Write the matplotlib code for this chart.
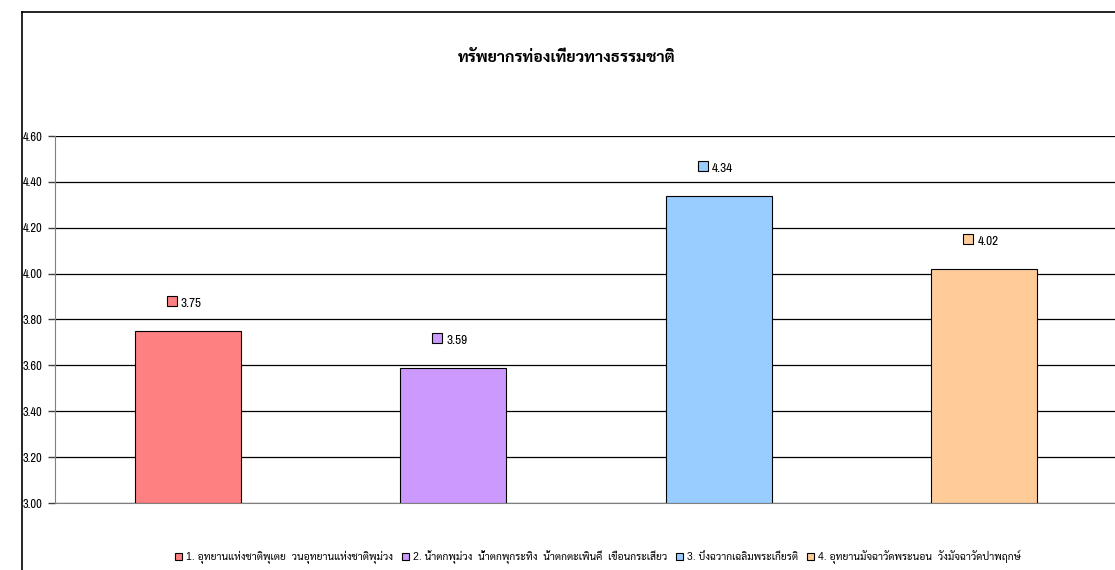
import matplotlib
matplotlib.use("Agg")
import matplotlib.pyplot as plt
import matplotlib.transforms as mtransforms
from matplotlib import font_manager as fm
from matplotlib.patches import Rectangle

categories = [
    "1. อุทยานแห่งชาติพุเตย  วนอุทยานแห่งชาติพุม่วง",
    "2. น้ำตกพุม่วง  น้ำตกพุกระทิง  น้ำตกตะเพินคี่  เขื่อนกระเสียว",
    "3. บึงฉวากเฉลิมพระเกียรติ",
    "4. อุทยานมัจฉาวัดพระนอน  วังมัจฉาวัดป่าพฤกษ์",
]
values = [3.75, 3.59, 4.34, 4.02]
colors = ["#FF8080", "#CC99FF", "#99CCFF", "#FFCC99"]
title = "ทรัพยากรท่องเที่ยวทางธรรมชาติ"
yticks = [3.00, 3.20, 3.40, 3.60, 3.80, 4.00, 4.20, 4.40, 4.60]

installed = {f.name for f in fm.fontManager.ttflist}
thai = next((n for n in ["Sarabun", "Noto Sans Thai Looped", "Noto Sans Thai",
                         "Bai Jamjuree", "Athiti"] if n in installed), "Athiti")
narrow = next((n for n in ["Liberation Sans Narrow", "Arial Narrow", "Archivo Narrow",
                           "PT Sans Narrow", "Roboto Condensed", "Open Sans Condensed"]
               if n in installed), None)
num_font = [narrow] if narrow else ["Liberation Sans"]
num_size = 9 if narrow else 7.5
plt.rcParams["font.family"] = ["Liberation Sans", thai, "DejaVu Sans"]

fig = plt.figure(figsize=(11.15, 5.7), dpi=100)
W, H = 1115, 570
ax = fig.add_axes([55 / W, 1 - 503 / H, 1062 / W, 367 / H])

x = range(len(values))
ax.bar(x, [v - 3.0 for v in values], bottom=3.0, width=0.4, color=colors,
       edgecolor="black", linewidth=0.8, zorder=3)

# data labels: small coloured key + value, above each bar
for i, v in enumerate(values):
    ax.annotate("%.2f" % v, (i, v), xytext=(-5, 19.5), textcoords="offset points",
                ha="left", va="center", fontsize=num_size + 0.5, family=num_font)
    shift = mtransforms.ScaledTranslation(-11.5 / 72, 21.5 / 72, fig.dpi_scale_trans)
    ax.plot(i, v, marker="s", markersize=6.5, markerfacecolor=colors[i],
            markeredgecolor="black", markeredgewidth=0.8, linestyle="none",
            transform=ax.transData + shift, clip_on=False, zorder=4)

ax.set_xlim(-0.5, 3.5)
ax.set_ylim(3.0, 4.6)
ax.set_yticks(yticks)
ax.set_yticklabels(["%.2f" % t for t in yticks], fontsize=num_size, family=num_font)
ax.set_xticks([])
ax.yaxis.grid(True, color="black", linewidth=0.9, zorder=0)
for s in ["top", "right"]:
    ax.spines[s].set_visible(False)
ax.spines["left"].set_color("#808080")
ax.spines["bottom"].set_color("#808080")
ax.tick_params(axis="y", length=5, color="#404040", width=1, pad=4)

fig.text(567 / W, 1 - 57 / H, title, ha="center", va="center", fontsize=11.5,
         fontweight="bold")

handles = [Rectangle((0, 0), 1, 1, facecolor=c, edgecolor="black", linewidth=0.8) for c in colors]
fig.legend(handles, categories, loc="center", bbox_to_anchor=(598 / W, 1 - 557 / H),
           ncol=4, frameon=False, fontsize=7.5, handlelength=0.7, handleheight=0.7,
           handletextpad=0.4, columnspacing=0.8)

# outer chart frame
fig.add_artist(plt.Line2D([22 / W, 22 / W], [0, 1 - 12 / H], color="black", linewidth=1.2))
fig.add_artist(plt.Line2D([22 / W, 1], [1 - 12 / H, 1 - 12 / H], color="black", linewidth=1.2))

fig.savefig("out.png")
